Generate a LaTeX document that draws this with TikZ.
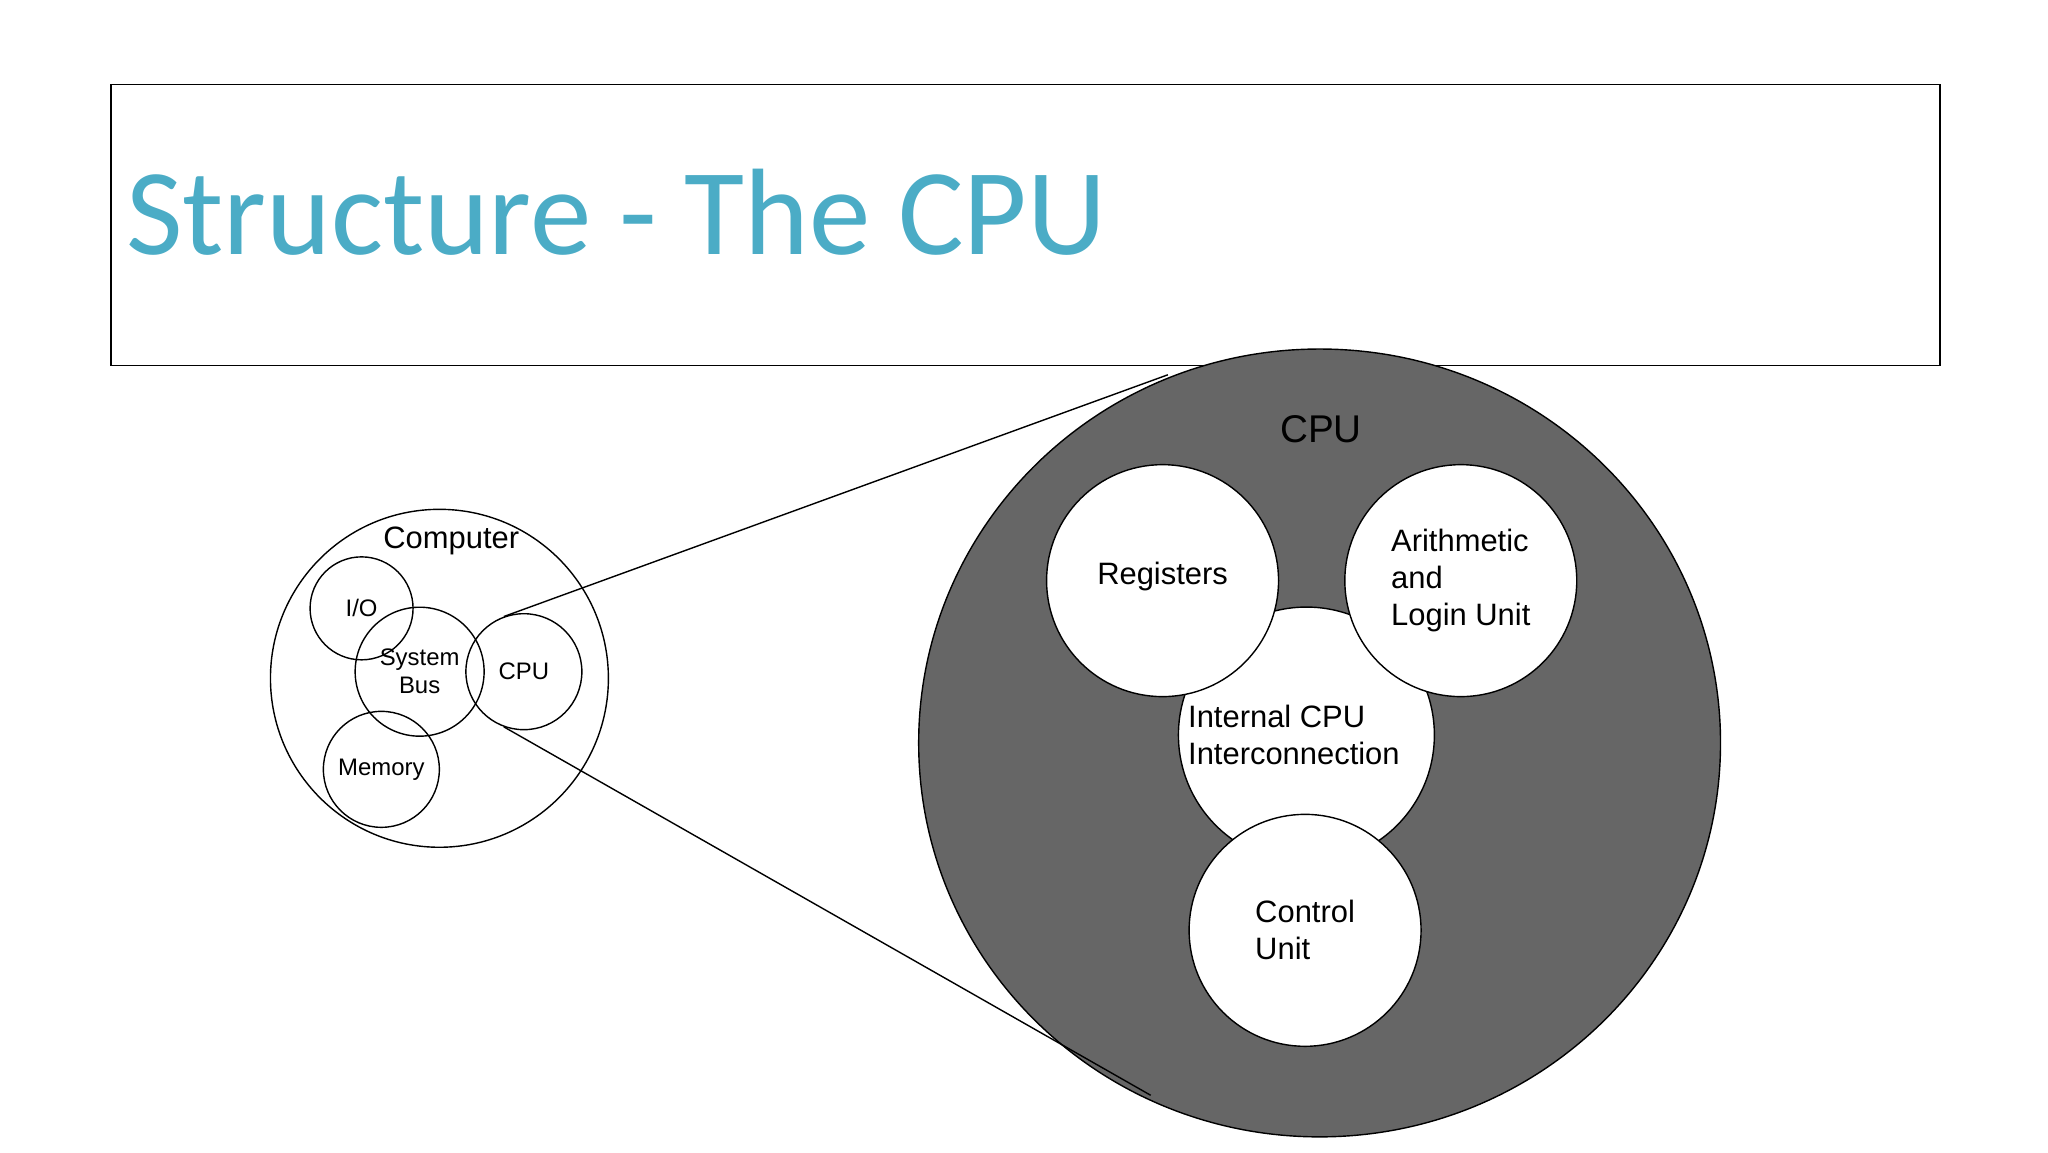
\documentclass[tikz,border=0pt]{standalone}
\usepackage{fontspec}
\setmainfont{Liberation Sans}
\newfontfamily\titlefont{Carlito}
\usetikzlibrary{shapes.geometric, positioning}
\definecolor{titleblue}{RGB}{75,172,198}
\tikzset{
  part/.style = {circle, draw=black, fill=white, align=left, inner sep=0pt},
  small/.style = {part, font=\fontsize{6.8}{8}\selectfont, align=center},
  big/.style = {part, font=\fontsize{8.8}{10.5}\selectfont}
}
\begin{document}
\begin{tikzpicture}[x=0.013196cm, y=-0.013196cm]

      \useasboundingbox (0,0) rectangle (1552,873);

      % Title
      \draw (84,64) rectangle (1470,277);
      \node (title) [anchor=base west, inner sep=0pt, text=titleblue, font=\titlefont\fontsize{35}{40}\selectfont] at (95,193) {Structure - The CPU};

      % Computer
      \node (computer) [circle, draw, minimum size=3.38cm] at (333,514) {};
      \node (complabel) [font=\fontsize{8.8}{10}\selectfont] at (342,410) {Computer};
      \node (io) [small, fill=none, minimum size=1.03cm] at (274,461) {I/O};
      \node (bus) [small, fill=none, minimum size=1.29cm] at (318,509) {System\\Bus};
      \node (cpu) [small, fill=none, minimum size=1.16cm] at (397,509) {CPU};
      \node (mem) [small, fill=none, minimum size=1.16cm] at (289,583) {Memory};

      % CPU detail
      \node (cpubig) [ellipse, draw, fill=black!60, minimum width=8.02cm, minimum height=7.88cm] at (1000,563) {};
      \node (cpulabel) [font=\fontsize{11}{13}\selectfont] at (1001,325) {CPU};
      \node (inter) [big, minimum size=2.56cm] at (990,557) {\hspace*{-0.25cm}Internal CPU\\\hspace*{-0.25cm}Interconnection};
      \node (reg) [big, minimum size=2.32cm] at (881,440) {\raisebox{0.15cm}{Registers}};
      \node (alu) [big, minimum size=2.32cm] at (1107,440) {Arithmetic\\and\\Login Unit};
      \node (cu) [big, minimum size=2.32cm] at (989,705) {Control\\Unit};

      % Zoom lines
      \coordinate (topend) at (885,284);
      \coordinate (botend) at (872,830);
      \draw (cpu.110) -- (topend);
      \draw (cpu.-110) -- (botend);

\end{tikzpicture}
\end{document}
